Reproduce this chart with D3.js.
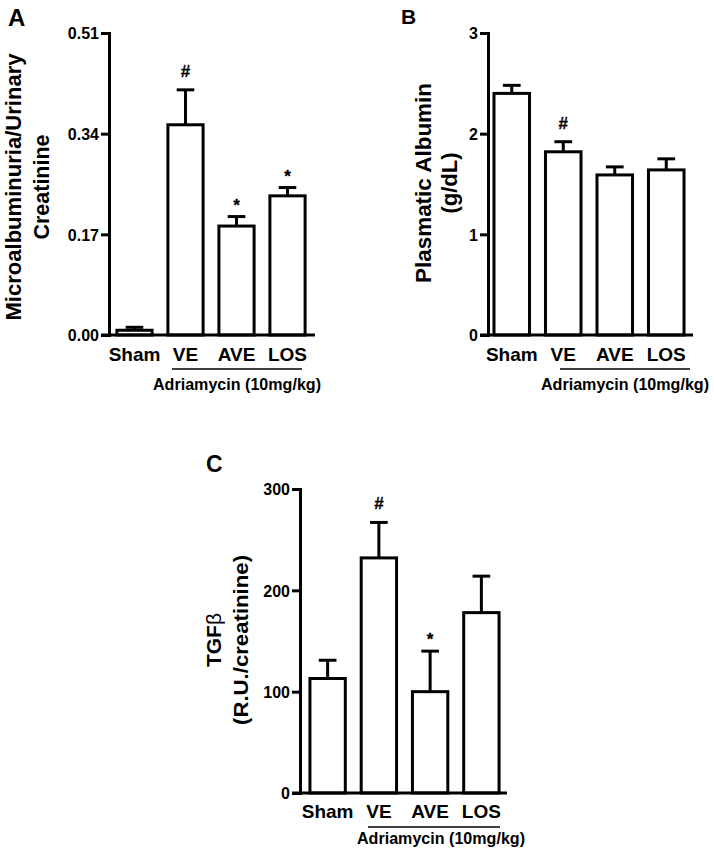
<!DOCTYPE html>
<html>
<head>
<meta charset="utf-8">
<script src="https://cdn.jsdelivr.net/npm/d3@7"></script>
<style>
  html, body { margin: 0; padding: 0; background: #fff; }
  svg { display: block; }
  text { font-family: "Liberation Sans", Arial, sans-serif; font-weight: bold; fill: #000; }
</style>
</head>
<body>
<svg id="chart" width="714" height="854"></svg>
<script>
// ---- data ----
const categories = ["Sham", "VE", "AVE", "LOS"];
const microalbMean = [0.008, 0.355, 0.184, 0.235];
const microalbErr  = [0.005, 0.059, 0.016, 0.014];
const albuminMean  = [2.40, 1.82, 1.59, 1.64];
const albuminErr   = [0.08, 0.10, 0.08, 0.11];
const tgfMean      = [113, 232, 100, 178];
const tgfErr       = [18, 35, 40, 36];
const ticksA = [0, 0.17, 0.34, 0.51];
const ticksB = [0, 1, 2, 3];
const ticksC = [0, 100, 200, 300];
const marksA = ["", "#", "*", "*"];
const marksB = ["", "#", "", ""];
const marksC = ["", "#", "*", ""];
const treatmentLabel = "Adriamycin (10mg/kg)";

const svg = d3.select("#chart");

function panel(cfg) {
  const g = svg.append("g");
  const y = d3.scaleLinear().domain([0, cfg.ticks[cfg.ticks.length - 1]]).range([cfg.y0, cfg.yTop]);
  const x = d3.scaleBand().domain(categories).range(cfg.band).paddingInner(0.31).paddingOuter(0.155);
  const bw = x.bandwidth();

  // bars
  g.selectAll("rect.bar").data(categories).join("rect")
    .attr("x", d => x(d)).attr("width", bw)
    .attr("y", (d, i) => y(cfg.mean[i]))
    .attr("height", (d, i) => y(0) - y(cfg.mean[i]))
    .attr("fill", "#fff").attr("stroke", "#000").attr("stroke-width", 3);

  // error bars (upper only)
  g.selectAll("line.err").data(categories).join("line")
    .attr("x1", d => x(d) + bw / 2).attr("x2", d => x(d) + bw / 2)
    .attr("y1", (d, i) => y(cfg.mean[i]))
    .attr("y2", (d, i) => y(cfg.mean[i] + cfg.err[i]))
    .attr("stroke", "#000").attr("stroke-width", 3);
  g.selectAll("line.cap").data(categories).join("line")
    .attr("x1", d => x(d) + bw / 4).attr("x2", d => x(d) + bw * 3 / 4)
    .attr("y1", (d, i) => y(cfg.mean[i] + cfg.err[i]))
    .attr("y2", (d, i) => y(cfg.mean[i] + cfg.err[i]))
    .attr("stroke", "#000").attr("stroke-width", 3);

  // significance marks
  g.selectAll("text.mark").data(categories).join("text")
    .attr("x", d => x(d) + bw / 2)
    .attr("y", (d, i) => y(cfg.mean[i] + cfg.err[i]) - (cfg.marks[i] === "#" ? 13 : 6))
    .attr("text-anchor", "middle").attr("font-size", 17)
    .attr("stroke", "#000").attr("stroke-width", 0.3)
    .text((d, i) => cfg.marks[i]);

  // y axis
  const yAxis = d3.axisLeft(y).tickValues(cfg.ticks).tickSize(8).tickSizeOuter(0)
    .tickPadding(2).tickFormat(cfg.fmt);
  const ya = g.append("g").attr("transform", `translate(${cfg.axisX},0)`).call(yAxis);
  ya.select(".domain").attr("stroke-width", 3).attr("stroke-linecap", "square");
  ya.selectAll(".tick line").attr("stroke-width", 3);
  ya.selectAll(".tick text").attr("font-size", 16).attr("font-weight", "bold")
    .attr("font-family", "'Liberation Sans', Arial, sans-serif").attr("dy", "0.36em");

  // x axis line
  g.append("line").attr("x1", cfg.axisX - 8).attr("x2", cfg.xEnd)
    .attr("y1", cfg.y0).attr("y2", cfg.y0).attr("stroke", "#000").attr("stroke-width", 3);

  // category labels
  const xAxis = d3.axisBottom(x).tickSize(0).tickPadding(0);
  const xa = g.append("g").attr("transform", `translate(0,${cfg.y0})`).call(xAxis);
  xa.select(".domain").remove();
  xa.selectAll(".tick text").attr("font-size", 19).attr("font-weight", "bold")
    .attr("font-family", "'Liberation Sans', Arial, sans-serif")
    .attr("y", cfg.labelDY).attr("dy", 0);

  // treatment underline + label
  g.append("line").attr("x1", cfg.under[0]).attr("x2", cfg.under[1])
    .attr("y1", cfg.y0 + 34).attr("y2", cfg.y0 + 34).attr("stroke", "#000").attr("stroke-width", 1.5);
  g.append("text").attr("x", cfg.treatX).attr("y", cfg.treatY)
    .attr("text-anchor", "middle").attr("font-size", 16)
    .attr("textLength", 168).attr("lengthAdjust", "spacingAndGlyphs")
    .text(treatmentLabel);

  // y axis title lines
  cfg.titles.forEach(t => {
    const tx = g.append("text")
      .attr("transform", `translate(${t.x},${cfg.titleCY}) rotate(-90)`)
      .attr("text-anchor", "middle").attr("font-size", t.size || 22);
    if (t.len) tx.attr("textLength", t.len).attr("lengthAdjust", "spacingAndGlyphs");
    if (t.parts) {
      t.parts.forEach(p => tx.append("tspan").attr("font-weight", p.w || "bold").text(p.s));
    } else tx.text(t.s);
  });

  // panel letter
  g.append("text").attr("x", cfg.letter.x).attr("y", cfg.letter.y)
    .attr("font-size", cfg.letter.size).text(cfg.letter.s);
}

panel({
  mean: microalbMean, err: microalbErr, marks: marksA, ticks: ticksA, fmt: d3.format(".2f"),
  axisX: 109, y0: 335, yTop: 33, band: [109, 313], xEnd: 315, labelDY: 26,
  under: [172, 302], treatX: 237, treatY: 390, titleCY: 187,
  titles: [{ x: 21, s: "Microalbuminuria/Urinary", len: 267 }, { x: 49, s: "Creatinine", len: 105 }],
  letter: { x: 8, y: 26, size: 24, s: "A" }
});

panel({
  mean: albuminMean, err: albuminErr, marks: marksB, ticks: ticksB, fmt: d3.format("d"),
  axisX: 488, y0: 335, yTop: 33, band: [486, 692], xEnd: 693, labelDY: 26,
  under: [560, 690], treatX: 625, treatY: 390, titleCY: 183,
  titles: [{ x: 431, s: "Plasmatic Albumin", len: 200 }, { x: 457, s: "(g/dL)" }],
  letter: { x: 401, y: 24, size: 21, s: "B" }
});

panel({
  mean: tgfMean, err: tgfErr, marks: marksC, ticks: ticksC, fmt: d3.format("d"),
  axisX: 300, y0: 793, yTop: 489, band: [302, 507], xEnd: 507, labelDY: 25,
  under: [368, 500], treatX: 441, treatY: 844, titleCY: 640,
  titles: [{ x: 221, size: 21, parts: [{ s: "TGF" }, { s: "β", w: "normal" }] },
           { x: 248, s: "(R.U./creatinine)", len: 170, size: 21 }],
  letter: { x: 206, y: 472, size: 23, s: "C" }
});
</script>
</body>
</html>
